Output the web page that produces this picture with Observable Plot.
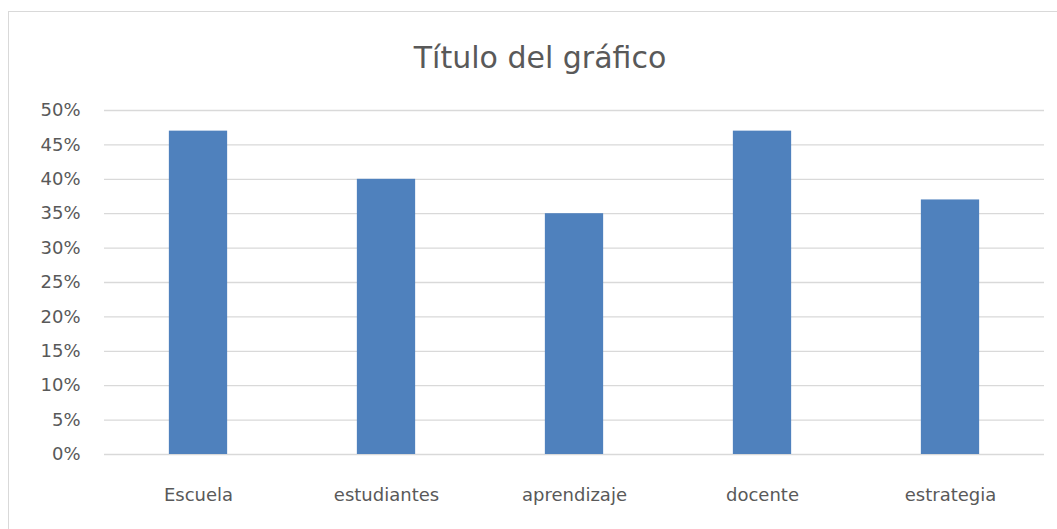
<!DOCTYPE html>
<html>
<head>
<meta charset="utf-8">
<script src="https://cdn.jsdelivr.net/npm/d3@7"></script>
<script src="https://cdn.jsdelivr.net/npm/@observablehq/plot@0.6"></script>
<style>
  html, body { margin: 0; padding: 0; background: #fff; }
  #wrap { position: relative; width: 1057px; height: 529px; overflow: hidden; background: #fff; }
  #frame { position: absolute; left: 8px; top: 11px; width: 1100px; height: 600px; border: 1.5px solid #d9d9d9; box-sizing: border-box; }
  #title { position: absolute; left: 0; width: 1080px; top: 42.6px; text-align: center; font-family: "DejaVu Sans", sans-serif; font-size: 30px; line-height: 30px; color: #595959; }
  #chart { position: absolute; left: 0; top: 0; }
</style>
</head>
<body>
<div id="wrap">
  <div id="frame"></div>
  <div id="title">Título del gráfico</div>
  <div id="chart"></div>
</div>
<script>
const categories = ["Escuela", "estudiantes", "aprendizaje", "docente", "estrategia"];
const values = [0.47, 0.40, 0.35, 0.47, 0.37];
const yTicks = [0, 0.05, 0.10, 0.15, 0.20, 0.25, 0.30, 0.35, 0.40, 0.45, 0.50];

const data = categories.map((c, i) => ({category: c, value: values[i]}));

const plot = Plot.plot({
  width: 1057,
  height: 529,
  marginTop: 110,
  marginBottom: 75,
  marginLeft: 104,
  marginRight: 13,
  style: {fontFamily: "DejaVu Sans, sans-serif", fontSize: "18px", color: "#595959", background: "transparent"},
  x: {domain: categories, paddingInner: 0.69, paddingOuter: 0.345, round: false, label: null},
  y: {domain: [0, 0.5], ticks: yTicks, tickFormat: d3.format(".0%"), label: null},
  marks: [
    Plot.ruleY(yTicks, {stroke: "#d9d9d9", strokeWidth: 1.3}),
    Plot.barY(data, {x: "category", y: "value", fill: "#4f81bd"}),
    Plot.axisY({ticks: yTicks, tickFormat: d3.format(".0%"), tickSize: 0, tickPadding: 24, label: null, fill: "#595959"}),
    Plot.axisX({tickSize: 0, tickPadding: 34, label: null, fill: "#595959"})
  ]
});
document.getElementById("chart").appendChild(plot);
</script>
</body>
</html>
